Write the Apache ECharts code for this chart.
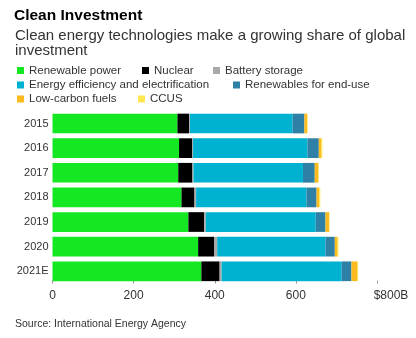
<!DOCTYPE html>
<html><head><meta charset="utf-8">
<script src="https://cdn.jsdelivr.net/npm/echarts@6/dist/echarts.min.js"></script>
<style>html,body{margin:0;padding:0;background:#fff}#c{width:416px;height:338px}</style>
</head><body><div id="c"></div>
<script>
const categories = ['2015','2016','2017','2018','2019','2020','2021E'];
const renewablePower = [308,312,310,318,335,359,367];
const nuclear = [29,32,35,32,39,40,45];
const batteryStorage = [2,2.5,2.5,4,4,7,5];
const efficiency = [253,282,270,272,271,267,296];
const renewablesEndUse = [29,28,29,25,24,23,24];
const lowCarbonFuels = [6.6,6.4,9,6.6,9,6.6,15];
const ccus = [1.5,2.5,1,2.5,1,2.5,1.5];
const xTicks = [0,200,400,600,800];

const seriesDefs = [
  ['Renewable power', renewablePower, '#14e823'],
  ['Nuclear', nuclear, '#000000'],
  ['Battery storage', batteryStorage, '#a9a9a9'],
  ['Energy efficiency and electrification', efficiency, '#00b2d2'],
  ['Renewables for end-use', renewablesEndUse, '#2e80a6'],
  ['Low-carbon fuels', lowCarbonFuels, '#fbbb1e'],
  ['CCUS', ccus, '#ffe84f']
];
const legendPos = [
  [17, 71.5], [142, 71.5], [213, 71.5],
  [17, 86], [233, 86],
  [17, 100], [138, 100]
];
const legends = seriesDefs.map((s, i) => ({
  data: [s[0]], left: legendPos[i][0], top: legendPos[i][1] - 7, padding: 0,
  icon: 'rect', itemWidth: 7, itemHeight: 7, itemGap: 0,
  textStyle: {color: '#333', fontSize: 11.5, fontFamily: 'Liberation Sans, Arial'}
}));

const chart = echarts.init(document.getElementById('c'), null, {renderer: 'canvas'});
chart.setOption({
  animation: false,
  backgroundColor: '#fff',
  title: [
    {text: 'Clean Investment', left: 14, top: 8, padding: 0,
     textStyle: {fontSize: 15.5, fontWeight: 'bold', color: '#000', fontFamily: 'Liberation Sans, Arial'}},
    {text: 'Clean energy technologies make a growing share of global\ninvestment', left: 15, top: 28, padding: 0,
     textStyle: {fontSize: 15, fontWeight: 'normal', color: '#333', lineHeight: 15, fontFamily: 'Liberation Sans, Arial'}},
    {text: 'Source: International Energy Agency', left: 15, top: 319, padding: 0,
     textStyle: {fontSize: 10.5, fontWeight: 'normal', color: '#333', fontFamily: 'Liberation Sans, Arial'}}
  ],
  legend: legends,
  grid: {left: 52.5, right: 39, top: 111.2, height: 172.4, containLabel: false},
  xAxis: {
    type: 'value', min: 0, max: 800, interval: 200,
    axisLine: {show: false}, splitLine: {show: false},
    axisTick: {show: true, inside: true, length: 3, lineStyle: {color: '#999'}},
    axisLabel: {color: '#333', fontSize: 12, margin: 6, fontFamily: 'Liberation Sans, Arial',
      formatter: v => v === xTicks[xTicks.length - 1] ? '{last|$' + v + 'B}' : String(v),
      rich: {last: {color: '#333', fontSize: 12, fontFamily: 'Liberation Sans, Arial', padding: [0, 0, 0, 28]}}}
  },
  yAxis: {
    type: 'category', data: categories, inverse: true,
    axisLine: {show: false}, axisTick: {show: false},
    axisLabel: {color: '#333', fontSize: 11, margin: 4, fontFamily: 'Liberation Sans, Arial'}
  },
  series: seriesDefs.map(s => ({
    name: s[0], type: 'bar', stack: 'total', data: s[1], barCategoryGap: '20%',
    itemStyle: {color: s[2]}
  }))
});
</script></body></html>
